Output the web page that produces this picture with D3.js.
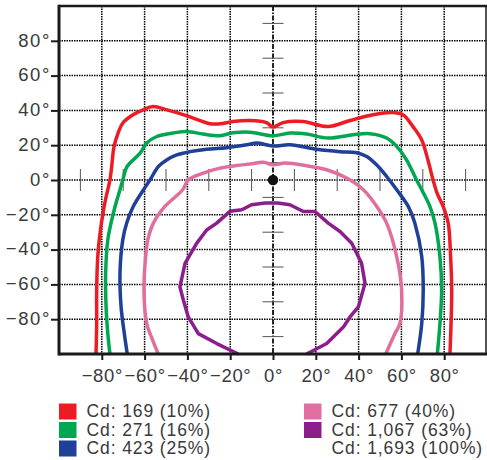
<!DOCTYPE html>
<html>
<head>
<meta charset="utf-8">
<script src="https://cdn.jsdelivr.net/npm/d3@7"></script>
<style>
  html, body { margin: 0; padding: 0; background: #fff; }
  svg { display: block; }
  text { fill: #3a3a3a; }
</style>
</head>
<body>
<svg id="chart" width="487" height="460"></svg>
<script>
// ---------- data ----------
const xTicks = [-80, -60, -40, -20, 0, 20, 40, 60, 80];
const yTicks = [80, 60, 40, 20, 0, -20, -40, -60, -80];
const minorTicks = [-90, -70, -50, -30, -10, 10, 30, 50, 70, 90];

const cd169 = [[-82.7,-100],[-82.4,-82.5],[-82.4,-63.4],[-81.9,-44.4],[-80.8,-30.5],[-79.6,-20.2],[-78.3,-11.5],[-76.9,-4],[-76.2,0],[-75.4,7.5],[-74.3,19],[-72.4,27],[-70.1,32.9],[-65.4,37.5],[-60.7,40.3],[-56.1,42.2],[-49.5,40.3],[-40.2,36.9],[-29.4,32.3],[-24.8,32.3],[-18.7,33.6],[-10.7,34.2],[-3,33],[0,30.4],[4.7,33],[14,33.6],[25.7,30.7],[36,34.2],[46.7,37.5],[55.5,38.8],[60.7,37.5],[65.4,30.7],[69.5,23],[72.4,11.5],[74.8,0],[76.8,-8],[79.6,-15.4],[81.9,-25],[83,-44.2],[83.5,-63.4],[83.2,-82.4],[82.7,-100]];
const cd271 = [[-76.2,-100],[-77.2,-88.1],[-78,-72.8],[-78.2,-53.5],[-77.2,-34.4],[-75.7,-24.8],[-73.8,-15.2],[-71.5,-5.6],[-70.2,0],[-68.3,7.5],[-62.1,15.4],[-59,21.3],[-54.3,25],[-46.7,27],[-40.3,27.9],[-32.7,26.4],[-24.8,25.4],[-18.7,27.1],[-10.7,27.5],[0,25.4],[7.9,27],[15.7,26.4],[25.7,24.1],[37.4,26],[45.3,26.6],[53.1,24.1],[57.8,19.3],[62.4,11.6],[67.1,0],[69.5,-5.6],[73.3,-15.2],[75.7,-24.8],[78,-44],[78.8,-63.3],[78,-82.5],[76.8,-100]];
const cd423 = [[-68.1,-100],[-69.5,-88.1],[-71,-72.8],[-71.5,-53.5],[-70.2,-34.4],[-68.4,-24.8],[-65.3,-15.2],[-60.5,-5.6],[-57.5,0],[-53.6,7.7],[-49.7,11.5],[-45,14.4],[-38.8,16.3],[-31,17.7],[-21.6,18.6],[-12.3,20.2],[-7.6,21.2],[0,19.6],[7.9,20.2],[20.4,17.7],[31.3,16.3],[39.1,15.7],[43.8,13.5],[48.4,8.7],[53.1,2],[57.8,-5.6],[63.2,-15.2],[66.3,-24.8],[69.5,-44],[70.2,-63.3],[69.5,-82.5],[67.6,-100]];
const cd677 = [[-53.6,-100],[-56.2,-92.1],[-59,-82.5],[-60.3,-63.3],[-59.5,-44],[-58.5,-34.4],[-55.9,-24.8],[-50.5,-15.2],[-42.2,-5.6],[-39.6,0],[-32.6,3.9],[-24.8,6.8],[-17,8.3],[-10.7,9.2],[-4.5,10.2],[0,8.8],[5.6,9.7],[15.7,8.2],[25.1,5.9],[34.4,1.1],[42.2,-5.6],[48.5,-15.2],[53.1,-24.8],[57.8,-44],[60.1,-63.3],[59.3,-82.5],[57,-88.2],[52.7,-100]];
const cd1067 = [[-16.2,-100],[-26.3,-94],[-34.9,-88.3],[-39.6,-78.7],[-41.9,-69],[-43.5,-61.4],[-41.1,-47.9],[-35.7,-36.4],[-31,-28.7],[-26.3,-24.8],[-20.1,-18],[-14.6,-17.1],[-10,-14.2],[-3.7,-13.2],[2.3,-13.2],[7.9,-14.2],[14.2,-18.1],[19.6,-18.1],[25.8,-24.8],[31.3,-29.6],[36.8,-36.3],[41.4,-47.9],[43,-59.4],[39.9,-72.9],[36,-78.7],[32.9,-84.5],[25.1,-94],[15.7,-100]];

const seriesData = [cd169, cd271, cd423, cd677, cd1067];
const seriesColors = ["#ed1c24", "#00a650", "#1f3f99", "#e06fa0", "#8b1e8c"];
const legendLabels = ["Cd: 169 (10%)", "Cd: 271 (16%)", "Cd: 423 (25%)", "Cd: 677 (40%)", "Cd: 1,067 (63%)", "Cd: 1,693 (100%)"];
const legendColors = ["#ed1c24", "#00a650", "#1f3f99", "#e06fa0", "#8b1e8c", null];

// ---------- layout ----------
const svg = d3.select("#chart");
const x = d3.scaleLinear().domain([-100, 100]).range([59, 487]);
const y = d3.scaleLinear().domain([-100, 100]).range([354, 6]);
const fmt = d => (d < 0 ? "\u2212" : "") + Math.abs(d) + "\u00B0";

// grid
const grid = svg.append("g");
grid.selectAll("line.v").data(xTicks.filter(d => d !== 0)).join("line")
  .attr("x1", d => x(d)).attr("x2", d => x(d)).attr("y1", y(100)).attr("y2", y(-100))
  .attr("stroke", "#000").attr("stroke-width", 1.5).attr("stroke-dasharray", "1.5,1");
grid.selectAll("line.h").data(yTicks).join("line")
  .attr("x1", x(-100)).attr("x2", x(100)).attr("y1", d => y(d)).attr("y2", d => y(d))
  .attr("stroke", "#000").attr("stroke-width", 1.5).attr("stroke-dasharray", "1.5,1");
// center vertical dash-dot
grid.append("line")
  .attr("x1", x(0)).attr("x2", x(0)).attr("y1", y(100)).attr("y2", y(-100))
  .attr("stroke", "#000").attr("stroke-width", 1.7).attr("stroke-dasharray", "5,1.5,1.5,1.5");

// minor crosshair ticks
grid.selectAll("line.mx").data(minorTicks).join("line")
  .attr("x1", d => x(d)).attr("x2", d => x(d)).attr("y1", y(0) - 11).attr("y2", y(0) + 11)
  .attr("stroke", "#555").attr("stroke-width", 1);
grid.selectAll("line.my").data(minorTicks).join("line")
  .attr("y1", d => y(d)).attr("y2", d => y(d)).attr("x1", x(0) - 10.5).attr("x2", x(0) + 10.5)
  .attr("stroke", "#555").attr("stroke-width", 1);

// curves
const lineSmooth = d3.line().x(d => x(d[0])).y(d => y(d[1])).curve(d3.curveCatmullRom.alpha(0.5));
const lineSharp = d3.line().x(d => x(d[0])).y(d => y(d[1])).curve(d3.curveLinear);
svg.append("g").selectAll("path").data(seriesData).join("path")
  .attr("d", (d, i) => i === 4 ? lineSharp(d) : lineSmooth(d))
  .attr("fill", "none")
  .attr("stroke", (d, i) => seriesColors[i])
  .attr("stroke-width", 3.5)
  .attr("stroke-linejoin", "round").attr("stroke-linecap", "butt");

// center dot
svg.append("circle").attr("cx", x(0)).attr("cy", y(0)).attr("r", 5.2).attr("fill", "#111");

// frame
const frame = svg.append("g").attr("stroke", "#1a1a1a").attr("fill", "none");
frame.append("line").attr("x1", x(-100)).attr("x2", x(-100)).attr("y1", y(100) - 1.2).attr("y2", y(-100) + 1.5).attr("stroke-width", 3);
frame.append("line").attr("x1", x(-100)).attr("x2", x(100)).attr("y1", y(100)).attr("y2", y(100)).attr("stroke-width", 2.5);
frame.append("line").attr("x1", x(-100)).attr("x2", x(100)).attr("y1", y(-100)).attr("y2", y(-100)).attr("stroke-width", 2.8);
frame.append("line").attr("x1", x(100) - 1).attr("x2", x(100) - 1).attr("y1", y(100)).attr("y2", y(-100)).attr("stroke-width", 1.5);

// axes
const axisFont = "Liberation Sans, Arial, sans-serif";
const yAxis = d3.axisLeft(y).tickValues(yTicks).tickSize(8).tickPadding(0).tickFormat(fmt);
const gy = svg.append("g").attr("transform", `translate(${x(-100)},0)`).call(yAxis);
gy.select(".domain").remove();
gy.selectAll(".tick line").attr("stroke", "#1a1a1a").attr("stroke-width", 2);
gy.selectAll(".tick text").attr("font-size", 18.5).attr("letter-spacing", "1.6px").attr("dy", "0.29em")
  .attr("fill", "#404040").attr("font-family", axisFont);

const xAxis = d3.axisBottom(x).tickValues(xTicks).tickSize(6).tickPadding(9).tickFormat(fmt);
const gx = svg.append("g").attr("transform", `translate(0,${y(-100)})`).call(xAxis);
gx.select(".domain").remove();
gx.selectAll(".tick line").attr("stroke", "#1a1a1a").attr("stroke-width", 2);
gx.selectAll(".tick text").attr("font-size", 18.5).attr("letter-spacing", "0.6px")
  .attr("fill", "#404040").attr("font-family", axisFont);

// legend
const legend = svg.append("g");
const items = legend.selectAll("g").data(legendLabels).join("g")
  .attr("transform", (d, i) => `translate(${i < 3 ? 59 : 304},${403.5 + (i % 3) * 18.5})`);
items.filter((d, i) => legendColors[i]).append("rect")
  .attr("width", 17.5).attr("height", 16)
  .attr("fill", (d) => legendColors[legendLabels.indexOf(d)]);
items.append("text").attr("x", 27.5).attr("y", 13.6).attr("font-size", 17.5).attr("letter-spacing", "0.9px")
  .attr("font-family", "Liberation Sans, Arial, sans-serif").attr("fill", "#3a3a3a")
  .text(d => d);
</script>
</body>
</html>
